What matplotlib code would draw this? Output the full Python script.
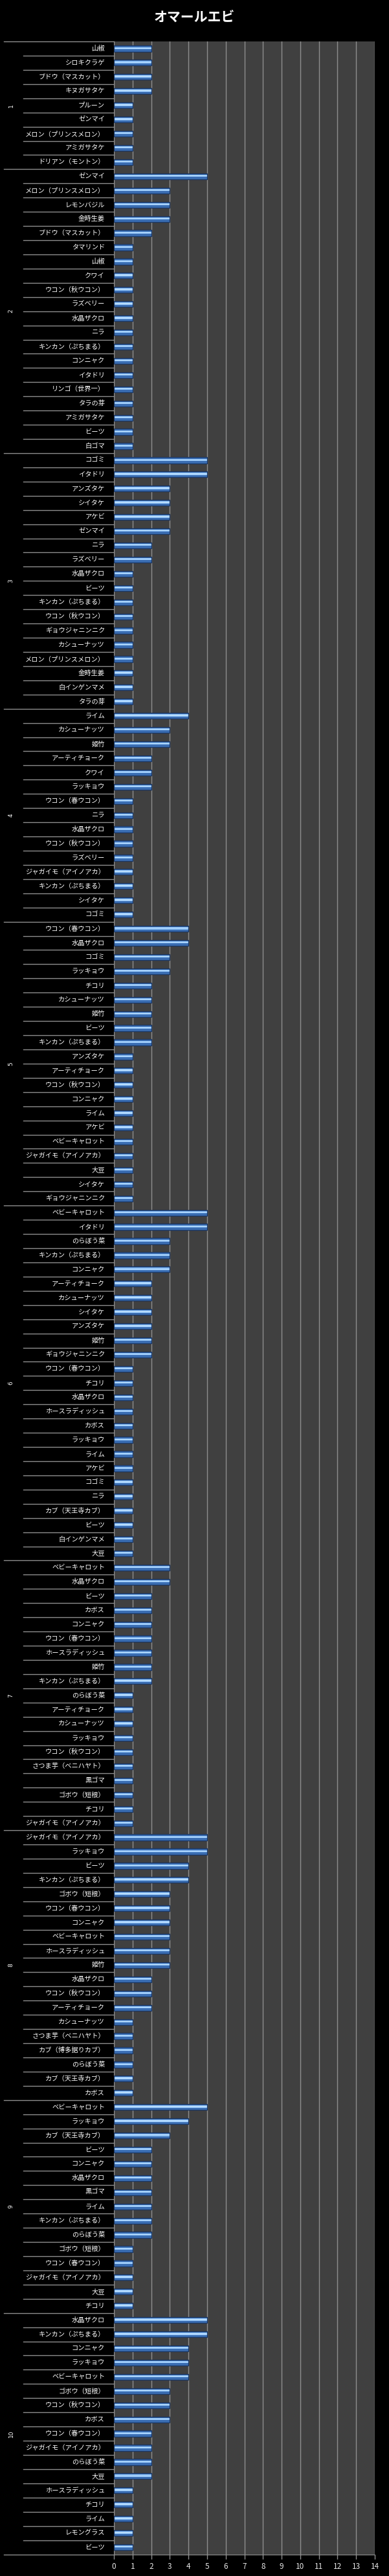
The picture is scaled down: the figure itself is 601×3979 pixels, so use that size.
import matplotlib
matplotlib.use("Agg")
import matplotlib.pyplot as plt
import numpy as np

plt.rcParams['font.family'] = ['Noto Sans CJK JP', 'DejaVu Sans']

title = "オマールエビ"
group_names = ["1", "2", "3", "4", "5", "6", "7", "8", "9", "10"]

g1_labels = ["山椒", "シロキクラゲ", "ブドウ（マスカット）", "キヌガサタケ", "プルーン", "ゼンマイ",
             "メロン（プリンスメロン）", "アミガサタケ", "ドリアン（モントン）"]
g1_values = [2, 2, 2, 2, 1, 1, 1, 1, 1]

g2_labels = ["ゼンマイ", "メロン（プリンスメロン）", "レモンバジル", "金時生姜", "ブドウ（マスカット）",
             "タマリンド", "山椒", "クワイ", "ウコン（秋ウコン）", "ラズベリー", "水晶ザクロ", "ニラ",
             "キンカン（ぷちまる）", "コンニャク", "イタドリ", "リンゴ（世界一）", "タラの芽",
             "アミガサタケ", "ビーツ", "白ゴマ"]
g2_values = [5, 3, 3, 3, 2, 1, 1, 1, 1, 1, 1, 1, 1, 1, 1, 1, 1, 1, 1, 1]

g3_labels = ["コゴミ", "イタドリ", "アンズタケ", "シイタケ", "アケビ", "ゼンマイ", "ニラ", "ラズベリー",
             "水晶ザクロ", "ビーツ", "キンカン（ぷちまる）", "ウコン（秋ウコン）", "ギョウジャニンニク",
             "カシューナッツ", "メロン（プリンスメロン）", "金時生姜", "白インゲンマメ", "タラの芽"]
g3_values = [5, 5, 3, 3, 3, 3, 2, 2, 1, 1, 1, 1, 1, 1, 1, 1, 1, 1]

g4_labels = ["ライム", "カシューナッツ", "姫竹", "アーティチョーク", "クワイ", "ラッキョウ",
             "ウコン（春ウコン）", "ニラ", "水晶ザクロ", "ウコン（秋ウコン）", "ラズベリー",
             "ジャガイモ（アイノアカ）", "キンカン（ぷちまる）", "シイタケ", "コゴミ"]
g4_values = [4, 3, 3, 2, 2, 2, 1, 1, 1, 1, 1, 1, 1, 1, 1]

g5_labels = ["ウコン（春ウコン）", "水晶ザクロ", "コゴミ", "ラッキョウ", "チコリ", "カシューナッツ",
             "姫竹", "ビーツ", "キンカン（ぷちまる）", "アンズタケ", "アーティチョーク",
             "ウコン（秋ウコン）", "コンニャク", "ライム", "アケビ", "ベビーキャロット",
             "ジャガイモ（アイノアカ）", "大豆", "シイタケ", "ギョウジャニンニク"]
g5_values = [4, 4, 3, 3, 2, 2, 2, 2, 2, 1, 1, 1, 1, 1, 1, 1, 1, 1, 1, 1]

g6_labels = ["ベビーキャロット", "イタドリ", "のらぼう菜", "キンカン（ぷちまる）", "コンニャク",
             "アーティチョーク", "カシューナッツ", "シイタケ", "アンズタケ", "姫竹",
             "ギョウジャニンニク", "ウコン（春ウコン）", "チコリ", "水晶ザクロ", "ホースラディッシュ",
             "カボス", "ラッキョウ", "ライム", "アケビ", "コゴミ", "ニラ", "カブ（天王寺カブ）",
             "ビーツ", "白インゲンマメ", "大豆"]
g6_values = [5, 5, 3, 3, 3, 2, 2, 2, 2, 2, 2, 1, 1, 1, 1, 1, 1, 1, 1, 1, 1, 1, 1, 1, 1]

g7_labels = ["ベビーキャロット", "水晶ザクロ", "ビーツ", "カボス", "コンニャク", "ウコン（春ウコン）",
             "ホースラディッシュ", "姫竹", "キンカン（ぷちまる）", "のらぼう菜", "アーティチョーク",
             "カシューナッツ", "ラッキョウ", "ウコン（秋ウコン）", "さつま芋（ベニハヤト）", "黒ゴマ",
             "ゴボウ（短根）", "チコリ", "ジャガイモ（アイノアカ）"]
g7_values = [3, 3, 2, 2, 2, 2, 2, 2, 2, 1, 1, 1, 1, 1, 1, 1, 1, 1, 1]

g8_labels = ["ジャガイモ（アイノアカ）", "ラッキョウ", "ビーツ", "キンカン（ぷちまる）", "ゴボウ（短根）",
             "ウコン（春ウコン）", "コンニャク", "ベビーキャロット", "ホースラディッシュ", "姫竹",
             "水晶ザクロ", "ウコン（秋ウコン）", "アーティチョーク", "カシューナッツ",
             "さつま芋（ベニハヤト）", "カブ（博多据りカブ）", "のらぼう菜", "カブ（天王寺カブ）", "カボス"]
g8_values = [5, 5, 4, 4, 3, 3, 3, 3, 3, 3, 2, 2, 2, 1, 1, 1, 1, 1, 1]

g9_labels = ["ベビーキャロット", "ラッキョウ", "カブ（天王寺カブ）", "ビーツ", "コンニャク", "水晶ザクロ",
             "黒ゴマ", "ライム", "キンカン（ぷちまる）", "のらぼう菜", "ゴボウ（短根）",
             "ウコン（春ウコン）", "ジャガイモ（アイノアカ）", "大豆", "チコリ"]
g9_values = [5, 4, 3, 2, 2, 2, 2, 2, 2, 2, 1, 1, 1, 1, 1]

g10_labels = ["水晶ザクロ", "キンカン（ぷちまる）", "コンニャク", "ラッキョウ", "ベビーキャロット",
              "ゴボウ（短根）", "ウコン（秋ウコン）", "カボス", "ウコン（春ウコン）",
              "ジャガイモ（アイノアカ）", "のらぼう菜", "大豆", "ホースラディッシュ", "チコリ",
              "ライム", "レモングラス", "ビーツ"]
g10_values = [5, 5, 4, 4, 4, 3, 3, 3, 2, 2, 2, 2, 1, 1, 1, 1, 1]

x_ticks = list(range(0, 15))

group_labels = [g1_labels, g2_labels, g3_labels, g4_labels, g5_labels,
                g6_labels, g7_labels, g8_labels, g9_labels, g10_labels]
group_values = [g1_values, g2_values, g3_values, g4_values, g5_values,
                g6_values, g7_values, g8_values, g9_values, g10_values]

all_labels = [l for g in group_labels for l in g]
all_values = np.array([v for g in group_values for v in g], dtype=float)
N = len(all_labels)

W, H = 601, 3979
fig = plt.figure(figsize=(W / 100, H / 100), dpi=100, facecolor='black')
top_px, bot_px, left_px, right_px = 64, 3945.5, 176, 579
ax = fig.add_axes([left_px / W, 1 - bot_px / H, (right_px - left_px) / W, (bot_px - top_px) / H])
ax.set_facecolor('#404040')

ax.set_xlim(0, 14)
ax.set_ylim(N, 0)
ax.set_xticks(x_ticks)
ax.set_yticks([])
ax.grid(axis='x', color='#8e8e8e', lw=1)
ax.set_axisbelow(True)
for s in ['top', 'right']:
    ax.spines[s].set_visible(False)
ax.spines['left'].set_color('#8e8e8e')
ax.spines['bottom'].set_color('#8e8e8e')
ax.tick_params(axis='x', colors='#8e8e8e', length=5, width=1, direction='out',
               labelcolor='#e6e6e6', labelsize=8.5, pad=4)

y = np.arange(N) + 0.5
bh = 0.42
ax.barh(y, all_values, height=bh, color='#3a6db2', lw=0, zorder=2)
ax.barh(y - bh * 0.08, all_values, height=bh * 0.36, color='#8fc2f6', lw=0, zorder=3)
ax.barh(y - bh * 0.08, all_values, height=bh * 0.14, color='#b8dcff', lw=0, zorder=3)
ax.barh(y, all_values, height=bh, fill=False, edgecolor='#1a3560', lw=0.9, zorder=4)

tr = ax.get_yaxis_transform()
axw = right_px - left_px
lab_x = (162 - left_px) / axw
sep_x = (36 - left_px) / axw
grp_x = (6 - left_px) / axw
gname_x = (17 - left_px) / axw
line_col = '#8e8e8e'

for i, lab in enumerate(all_labels):
    ax.text(lab_x, i + 0.5, lab, transform=tr, ha='right', va='center',
            color='white', fontsize=7.4)

start = 0
for gname, glabs in zip(group_names, group_labels):
    n = len(glabs)
    ax.plot([grp_x, 0], [start, start], transform=tr, color=line_col, lw=1, clip_on=False)
    for k in range(1, n):
        ax.plot([sep_x, 0], [start + k, start + k], transform=tr, color=line_col, lw=1, clip_on=False)
    ax.text(gname_x, start + n / 2, gname, transform=tr, rotation=90, ha='center', va='center',
            color='white', fontsize=6.5, family='DejaVu Sans')
    start += n
ax.plot([grp_x, 0], [N, N], transform=tr, color=line_col, lw=1, clip_on=False)

fig.text(0.5, 1 - 27 / H, title, ha='center', va='center', color='white',
         fontsize=15, fontweight='bold')

fig.savefig('out.png', dpi=100, facecolor='black')
